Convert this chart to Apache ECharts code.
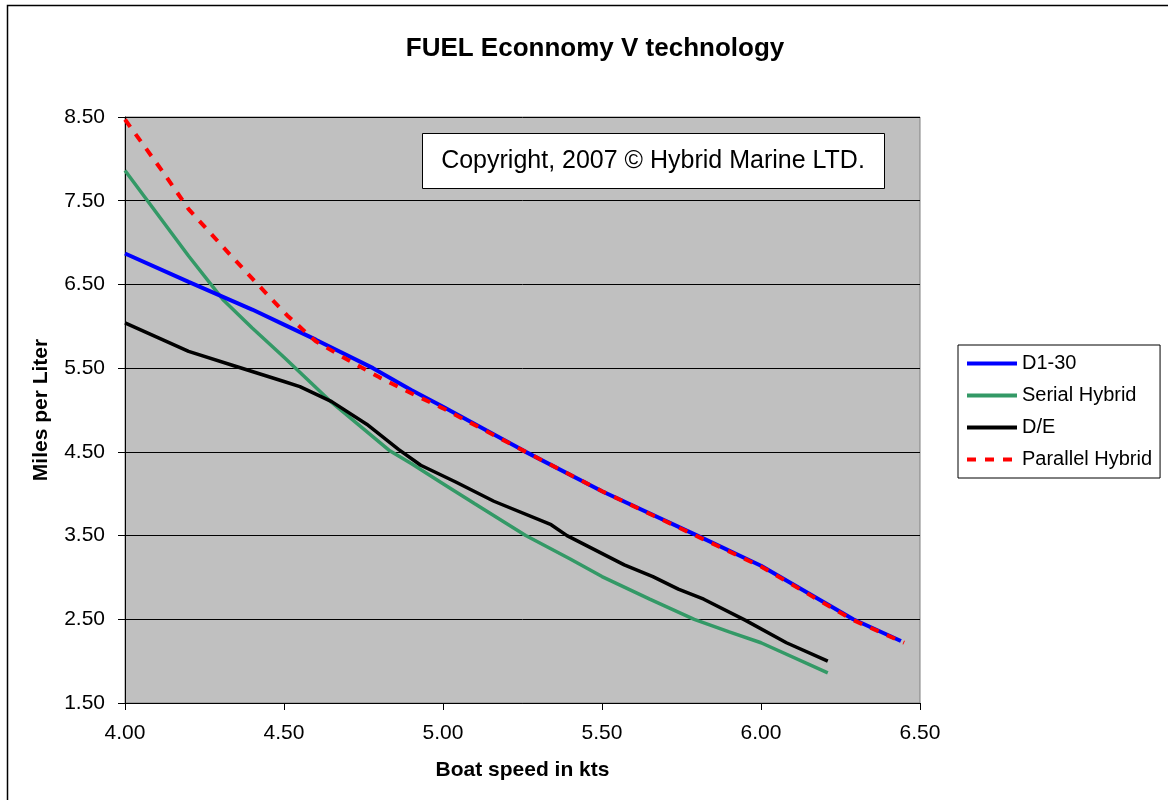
<!DOCTYPE html>
<html>
<head>
<meta charset="utf-8">
<title>FUEL Econnomy V technology</title>
<script src="https://cdn.jsdelivr.net/npm/echarts@6/dist/echarts.min.js"></script>
<style>
  html, body { margin: 0; padding: 0; background: #ffffff; }
  #chart { width: 1168px; height: 800px; }
</style>
</head>
<body>
<div id="chart"></div>
<script>
// Boat speed (kts) and fuel economy (miles per liter) for each drive technology
const d130Speed = [4.00, 4.20, 4.40, 4.50, 4.60, 4.78, 4.90, 5.00, 5.26, 5.50, 5.80, 6.00, 6.29, 6.44];
const d130Mpl   = [6.87, 6.53, 6.20, 6.02, 5.84, 5.50, 5.24, 5.04, 4.50, 4.03, 3.50, 3.14, 2.50, 2.24];

const serialSpeed = [4.00, 4.20, 4.31, 4.40, 4.50, 4.65, 4.83, 4.90, 5.00, 5.10, 5.26, 5.40, 5.50, 5.65, 5.79, 5.90, 6.00, 6.21];
const serialMpl   = [7.86, 6.84, 6.31, 5.98, 5.63, 5.09, 4.52, 4.36, 4.12, 3.88, 3.50, 3.22, 3.01, 2.74, 2.50, 2.35, 2.22, 1.86];

const deSpeed = [4.00, 4.20, 4.35, 4.50, 4.55, 4.65, 4.76, 4.86, 4.93, 5.04, 5.16, 5.34, 5.39, 5.57, 5.66, 5.74, 5.82, 5.95, 6.08, 6.21];
const deMpl   = [6.04, 5.70, 5.52, 5.34, 5.28, 5.10, 4.83, 4.53, 4.34, 4.14, 3.91, 3.63, 3.50, 3.15, 3.01, 2.86, 2.74, 2.49, 2.22, 2.00];

const parallelSpeed = [4.00, 4.12, 4.20, 4.31, 4.41, 4.51, 4.60, 4.70, 4.80, 4.90, 5.00, 5.26, 5.50, 5.80, 6.00, 6.29, 6.45];
const parallelMpl   = [8.47, 7.84, 7.40, 6.94, 6.53, 6.13, 5.82, 5.60, 5.39, 5.20, 5.02, 4.50, 4.03, 3.49, 3.13, 2.49, 2.22];

const seriesNames = ['D1-30', 'Serial Hybrid', 'D/E', 'Parallel Hybrid'];
const xTicks = { min: 4.0, max: 6.5, step: 0.5 };
const yTicks = { min: 1.5, max: 8.5, step: 1.0 };

const FONT = '"Liberation Sans", Arial, sans-serif';

function pairs(xs, ys) {
  return xs.map((x, i) => [x, ys[i]]);
}

const chart = echarts.init(document.getElementById('chart'), null, { renderer: 'canvas' });

chart.setOption({
  backgroundColor: '#ffffff',
  animation: false,
  title: {
    text: 'FUEL Econnomy V technology',
    left: 590,
    top: 31,
    textAlign: 'center',
    textStyle: { fontFamily: FONT, fontSize: 26, fontWeight: 'bold', color: '#000' }
  },
  grid: {
    left: 125, right: 248, top: 117, bottom: 97,
    show: true,
    backgroundColor: '#C0C0C0',
    borderColor: '#808080',
    borderWidth: 1
  },
  legend: {
    orient: 'vertical',
    left: 958,
    top: 345,
    data: seriesNames,
    itemWidth: 50,
    itemHeight: 14,
    itemGap: 11,
    padding: [8, 8, 8, 7],
    backgroundColor: '#ffffff',
    borderColor: '#000',
    borderWidth: 1,
    // line-only keys: hide the point marker drawn on each key
    itemStyle: { opacity: 0 },
    lineStyle: { width: 4 },
    textStyle: { fontFamily: FONT, fontSize: 20, color: '#000', lineHeight: 21, padding: [0, 0, 0, 0] }
  },
  xAxis: {
    type: 'value',
    min: xTicks.min,
    max: xTicks.max,
    interval: xTicks.step,
    name: 'Boat speed in kts',
    nameLocation: 'middle',
    nameGap: 57,
    nameTextStyle: { fontFamily: FONT, fontSize: 21, fontWeight: 'bold', color: '#000' },
    axisLine: { show: true, lineStyle: { color: '#000', width: 1 } },
    axisTick: { show: true, inside: false, length: 7, lineStyle: { color: '#000' } },
    axisLabel: {
      margin: 20,
      fontFamily: FONT, fontSize: 21, color: '#000',
      formatter: v => v.toFixed(2)
    },
    splitLine: { show: false }
  },
  yAxis: {
    type: 'value',
    min: yTicks.min,
    max: yTicks.max,
    interval: yTicks.step,
    name: 'Miles per Liter',
    nameLocation: 'middle',
    nameGap: 73,
    nameTextStyle: { fontFamily: FONT, fontSize: 21, fontWeight: 'bold', color: '#000' },
    axisLine: { show: true, lineStyle: { color: '#000', width: 1 } },
    axisTick: { show: true, inside: false, length: 7, lineStyle: { color: '#000' } },
    axisLabel: {
      margin: 20,
      fontFamily: FONT, fontSize: 21, color: '#000',
      formatter: v => v.toFixed(2)
    },
    splitLine: { show: true, lineStyle: { color: '#000', width: 1 } }
  },
  series: [
    {
      name: seriesNames[0], type: 'line', symbol: 'none', z: 3,
      data: pairs(d130Speed, d130Mpl),
      lineStyle: { color: '#0000FF', width: 4 },
      itemStyle: { color: '#0000FF' }
    },
    {
      name: seriesNames[1], type: 'line', symbol: 'none', z: 2,
      data: pairs(serialSpeed, serialMpl),
      lineStyle: { color: '#339966', width: 3.5 },
      itemStyle: { color: '#339966' }
    },
    {
      name: seriesNames[2], type: 'line', symbol: 'none', z: 2,
      data: pairs(deSpeed, deMpl),
      lineStyle: { color: '#000000', width: 3.5 },
      itemStyle: { color: '#000000' }
    },
    {
      name: seriesNames[3], type: 'line', symbol: 'none', z: 4,
      data: pairs(parallelSpeed, parallelMpl),
      lineStyle: { color: '#FF0000', width: 4, type: [9, 9] },
      itemStyle: { color: '#FF0000' }
    }
  ],
  graphic: [
    // outer chart frame
    {
      type: 'rect', silent: true, z: 100,
      shape: { x: 7.5, y: 5.5, width: 1200, height: 820 },
      style: { fill: null, stroke: '#000', lineWidth: 1.5 }
    },
    // copyright text box
    {
      type: 'group', z: 100,
      children: [
        {
          type: 'rect',
          shape: { x: 422.5, y: 133.5, width: 462, height: 55 },
          style: { fill: '#ffffff', stroke: '#000', lineWidth: 1 }
        },
        {
          type: 'text',
          x: 653, y: 161,
          style: {
            text: 'Copyright, 2007 \u00A9 Hybrid Marine LTD.',
            fontFamily: FONT, fontSize: 25, fill: '#000',
            align: 'center', verticalAlign: 'middle'
          }
        }
      ]
    }
  ]
});
</script>
</body>
</html>
